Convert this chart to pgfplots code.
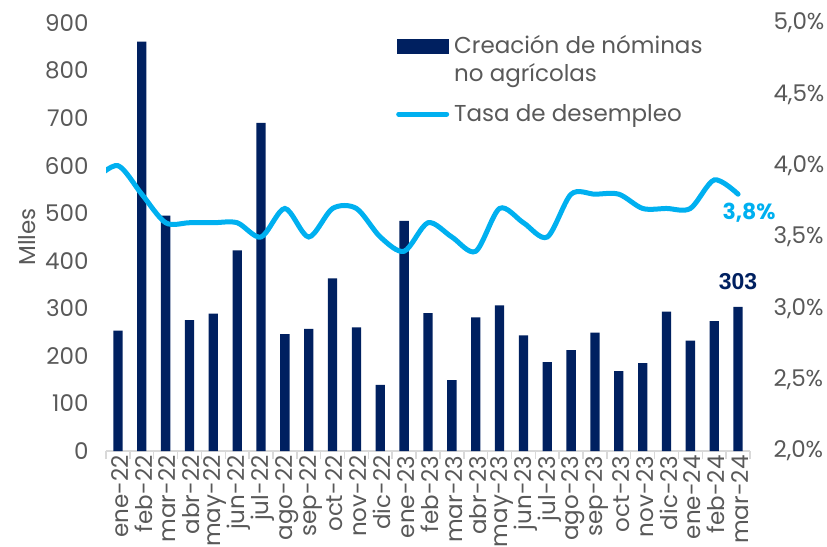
\documentclass[border=0pt]{standalone}
\usepackage{pgfplots}
\pgfplotsset{compat=1.18}
\usepackage{fontspec}
\setmainfont{Poppins}
\newfontfamily\arialf{Liberation Sans}
\definecolor{navy}{RGB}{0,32,96}
\definecolor{lblue}{RGB}{0,176,240}
\definecolor{tgrey}{RGB}{89,89,89}
\definecolor{agrey}{RGB}{217,217,217}
\pgfplotsset{/pgf/number format/assume math mode=true}
\begin{document}
\begin{tikzpicture}[font=\fontsize{23bp}{28bp}\selectfont]
\useasboundingbox (-106bp,-96bp) rectangle (721bp,451bp);
\begin{axis}[
  scale only axis, width=644bp, height=428bp,
  at={(0,0)}, anchor=south west,
  xmin=-0.5, xmax=26.5, ymin=0, ymax=900,
  ytick={0,100,...,900},
  xtick={0,...,26},
  xticklabels={ene-22,feb-22,mar-22,abr-22,may-22,jun-22,jul-22,ago-22,sep-22,oct-22,nov-22,dic-22,ene-23,feb-23,mar-23,abr-23,may-23,jun-23,jul-23,ago-23,sep-23,oct-23,nov-23,dic-23,ene-24,feb-24,mar-24},
  minor xtick={-0.5,0.5,...,26.5},
  axis x line*=bottom, axis y line*=left,
  x axis line style={agrey, line width=1.5bp, -},
  y axis line style={draw=none},
  tick align=outside,
  major tick length=0pt, minor tick length=8bp,
  minor tick style={agrey, line width=1.5bp},
  ytick style={draw=none},
  every tick label/.append style={text=tgrey},
  xticklabel style={rotate=90, anchor=east, yshift=-2bp, xshift=-1bp},
  yticklabel style={xshift=-14bp},
  ylabel={Mlles},
  every axis y label/.style={at={(axis description cs:0,0.5)}, xshift=-79bp, rotate=90, anchor=center, text=tgrey},
  legend style={at={(rel axis cs:0.4503,0.972)}, anchor=north west, draw=none, fill=none,
    inner sep=0pt, column sep=5bp, row sep=22bp, nodes={inner sep=0pt, text=tgrey},
    cells={anchor=west, align=left}},
  clip mode=individual,
]
\addplot[ybar, bar width=0.39, fill=navy, draw=none,
  legend image code/.code={\fill[navy] (0bp,5.5bp) rectangle (52bp,20.5bp);}]
coordinates {
(0,253) (1,861) (2,495) (3,275) (4,289) (5,422) (6,690) (7,246) (8,257) (9,363)
(10,260) (11,139) (12,484) (13,290) (14,149) (15,281) (16,306) (17,243) (18,187)
(19,212) (20,249) (21,168) (22,185) (23,293) (24,232) (25,273) (26,303)};
\addlegendentry{Creación de nóminas\\no agrícolas}
\addlegendimage{legend image code/.code={\draw[lblue, line width=5bp, line cap=round] (2bp,0bp) -- (50bp,0bp);}}
\addlegendentry{Tasa de desempleo}
\node[anchor=south, inner sep=0pt, text=navy, font=\arialf\bfseries\fontsize{23bp}{28bp}\selectfont, yshift=17bp] at (axis cs:26,303) {303};
\end{axis}
\begin{axis}[
  scale only axis, width=644bp, height=428bp,
  at={(0,0)}, anchor=south west,
  xmin=-0.5, xmax=26.5, ymin=2, ymax=5,
  axis y line*=right, axis x line=none,
  y axis line style={draw=none},
  ytick={2,2.5,3,3.5,4,4.5,5},
  ytick style={draw=none}, major tick length=0pt,
  yticklabel={\pgfmathprintnumber[fixed,fixed zerofill,precision=1,use comma]{\tick}\%},
  yticklabel style={text=tgrey, xshift=20bp},
  clip mode=individual,
]
\addplot[lblue, line width=5bp, smooth, tension=0.5, line cap=round] coordinates {
(-1,3.9) (0,4.0) (1,3.8) (2,3.6) (3,3.6) (4,3.6) (5,3.6) (6,3.5) (7,3.7) (8,3.5)
(9,3.7) (10,3.7) (11,3.5) (12,3.4) (13,3.6) (14,3.5) (15,3.4) (16,3.7) (17,3.6)
(18,3.5) (19,3.8) (20,3.8) (21,3.8) (22,3.7) (23,3.7) (24,3.7) (25,3.9) (26,3.8)};
\node[inner sep=0pt, text=lblue, font=\bfseries\fontsize{22bp}{28bp}\selectfont, xshift=11bp, yshift=-19bp] at (axis cs:26,3.8) {3,8\%};
\end{axis}
\end{tikzpicture}
\end{document}
